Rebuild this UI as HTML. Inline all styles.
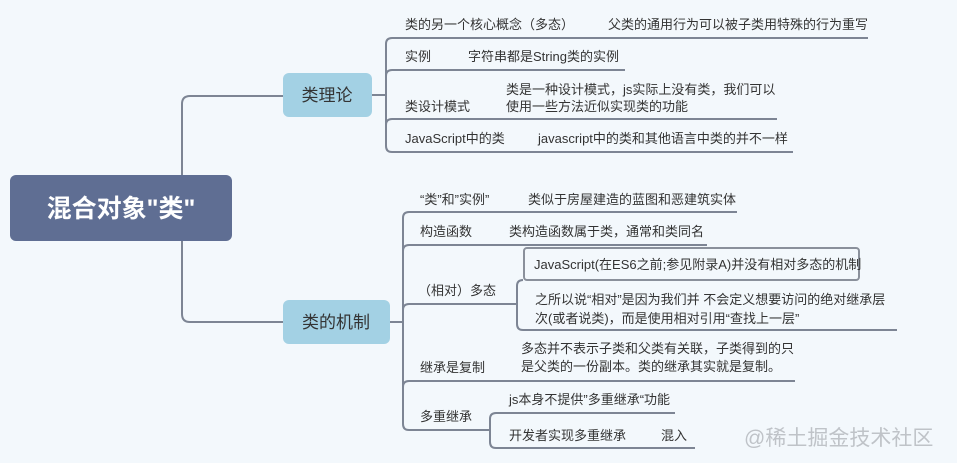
<!DOCTYPE html>
<html><head><meta charset="utf-8"><style>
html,body{margin:0;padding:0;background:#f3f8fc;}
svg{display:block}
text{font-family:"Liberation Sans","Noto Sans CJK SC",sans-serif;fill:#333;font-size:13px}
</style></head><body>
<svg width="957" height="463" viewBox="0 0 957 463">
<rect width="957" height="463" fill="#f3f8fc"/>
<g fill="none" stroke="#7d8594" stroke-width="2">
<path d="M182,175 V104 Q182,96 190,96 H283"/>
<path d="M182,241 V314 Q182,322 190,322 H283"/>
<path d="M372,95 H386"/>
<path d="M868,38 H392 Q386,38 386,44 V146 Q386,152 392,152 H793"/>
<path d="M386,76 Q386,70 392,70 H625"/>
<path d="M386,125 Q386,119 392,119 H777"/>
<path d="M390,322 H403"/>
<path d="M737,212 H409 Q403,212 403,218 V424 Q403,430 409,430 H490"/>
<path d="M403,251 Q403,245 409,245 H707"/>
<path d="M403,310 Q403,304 409,304 H517"/>
<path d="M403,387 Q403,381 409,381 H795"/>
<path d="M517,304 V286 Q517,280 523,280"/>
<path d="M517,304 V324 Q517,330 523,330 H897"/>
<path d="M490,430 V419 Q490,413 496,413 H675"/>
<path d="M490,430 V442 Q490,448 496,448 H695"/>
</g>
<rect x="524" y="248" width="335" height="32" rx="3" fill="#f3f8fc" stroke="#8a909b" stroke-width="2"/>
<rect x="10" y="175" width="222" height="66" rx="6" fill="#5f6e93"/>
<text x="121" y="217" text-anchor="middle" style="fill:#fff;font-size:25px;font-weight:bold">混合对象"类"</text>
<rect x="283" y="73" width="89" height="44" rx="6" fill="#a3d1e4"/>
<text x="327" y="101" text-anchor="middle" style="font-size:17px">类理论</text>
<rect x="283" y="300" width="107" height="44" rx="6" fill="#a3d1e4"/>
<text x="336" y="328" text-anchor="middle" style="font-size:17px">类的机制</text>
<text x="405" y="29">类的另一个核心概念（多态）</text>
<text x="608" y="29">父类的通用行为可以被子类用特殊的行为重写</text>
<text x="405" y="61">实例</text>
<text x="468" y="61">字符串都是String类的实例</text>
<text x="506" y="94">类是一种设计模式，js实际上没有类，我们可以</text>
<text x="405" y="111">类设计模式</text>
<text x="506" y="111">使用一些方法近似实现类的功能</text>
<text x="405" y="143">JavaScript中的类</text>
<text x="538" y="143">javascript中的类和其他语言中类的并不一样</text>
<text x="420" y="204">“类”和”实例”</text>
<text x="528" y="204">类似于房屋建造的蓝图和恶建筑实体</text>
<text x="420" y="236">构造函数</text>
<text x="509" y="236">类构造函数属于类，通常和类同名</text>
<text x="418" y="295">（相对）多态</text>
<text x="534" y="269">JavaScript(在ES6之前;参见附录A)并没有相对多态的机制</text>
<text x="535" y="304">之所以说“相对”是因为我们并 不会定义想要访问的绝对继承层</text>
<text x="535" y="323">次(或者说类)，而是使用相对引用“查找上一层”</text>
<text x="521" y="353">多态并不表示子类和父类有关联，子类得到的只</text>
<text x="420" y="372">继承是复制</text>
<text x="521" y="371">是父类的一份副本。类的继承其实就是复制。</text>
<text x="420" y="421">多重继承</text>
<text x="509" y="404">js本身不提供”多重继承“功能</text>
<text x="509" y="440">开发者实现多重继承</text>
<text x="661" y="440">混入</text>
<text x="744" y="445" style="fill:#bfc3c8;font-size:21px">@稀土掘金技术社区</text>
</svg>
</body></html>
